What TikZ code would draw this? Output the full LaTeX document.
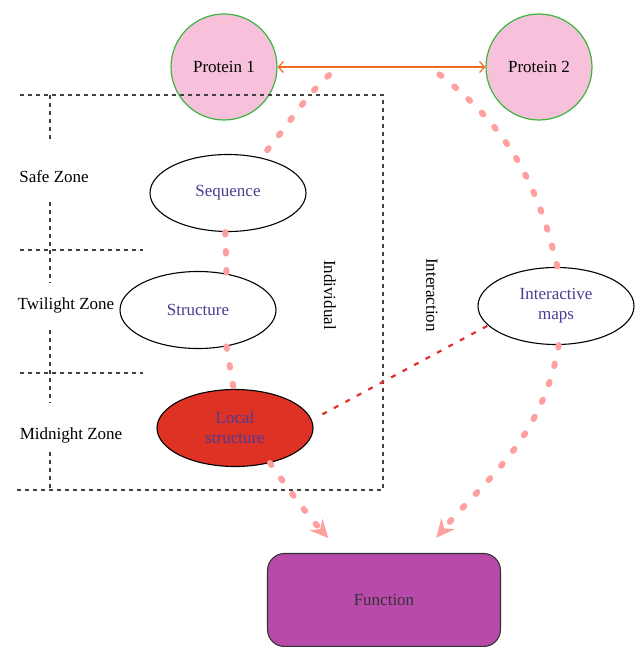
\documentclass[tikz,border=0pt]{standalone}
\usepackage{fontspec}
\setmainfont{Liberation Serif}
\usetikzlibrary{shapes.geometric,arrows.meta}
\definecolor{protfill}{HTML}{F7C1DC}
\definecolor{protline}{HTML}{3DB53D}
\definecolor{linkorange}{HTML}{F26A21}
\definecolor{flowpink}{HTML}{FFA0A0}
\definecolor{localred}{HTML}{DD3224}
\definecolor{dashred}{HTML}{E0302A}
\definecolor{funcpurple}{HTML}{B84AAC}
\definecolor{levelblue}{HTML}{4B3D96}

\begin{document}
\begin{tikzpicture}[x=1pt,y=-1pt,
    every node/.style={font=\fontsize{17}{20}\selectfont},
    protein/.style={circle,draw=protline,fill=protfill,line width=1.2pt,
        minimum size=106pt,inner sep=0pt},
    level/.style={ellipse,draw=black,fill=white,line width=1.1pt,
        minimum width=156pt,minimum height=77pt,inner sep=0pt,
        text=levelblue,align=center},
    zoneline/.style={black!75,line width=1.1pt,dash pattern=on 4pt off 4pt},
    flow/.style={flowpink,line width=6pt,line cap=round,
        dash pattern=on 2.5pt off 16.5pt},
    tipped/.style={-{Stealth[length=18pt,width=17pt,inset=6pt]},shorten >=20pt}]
    \useasboundingbox (0,0) rectangle (636,647);

    \node[protein] (p1) at (224,67) {Protein 1};
    \node[protein] (p2) at (539,67) {Protein 2};
    \draw[linkorange,line width=1.2pt,
        {Straight Barb[length=5pt,width=11pt]}-{Straight Barb[length=5pt,width=11pt]}]
        (p1) -- (p2);

    % zones
    \draw[zoneline] (20,95) -- (383,95) -- (383,490) -- (14,490);
    \draw[zoneline] (20,250) -- (143,250);
    \draw[zoneline] (20,373) -- (143,373);
    \foreach \a/\b in {95/142,202/283,330/403,452/490}
        \draw[zoneline] (50,\a) -- (50,\b);
    \node (safe) at (54,177) {Safe Zone};
    \node (twilight) at (66,305) {Twilight Zone};
    \node (midnight) at (71,435) {Midnight Zone};
    \node[rotate=-90] (indiv) at (330,295) {Individual};
    \node[rotate=-90] (inter) at (432,295) {Interaction};

    \node[level] (seq) at (228,193) {Sequence};
    \node[level] (str) at (198,310) {Structure};
    \node[level,fill=localred] (loc) at (235,428) {Local\\structure};
    \node[level] (int) at (556,306) {Interactive\\maps};
    \node[draw=black!80,fill=funcpurple,rounded corners=17pt,line width=1.1pt,
        minimum width=233pt,minimum height=93pt,text=black!80] (fun) at (384,600) {Function};

    \coordinate (jl) at (338,67);
    \coordinate (jr) at (430,67);
    \draw[flow,shorten <=12pt] (jl) to[out=-138,in=50] (seq.47);
    \draw[flow] (seq.-94) -- (str.52);
    \draw[flow] (str.-52) -- (loc.92);
    \draw[flow,tipped] (loc.-45) to[out=-55,in=132] (fun.132);
    \draw[flow,shorten <=12pt] (jr) to[out=-38,in=103] (int.88);
    \draw[flow,tipped] (int.-86) to[out=-100,in=50] (fun.50);
    \draw[dashred,line width=2.2pt,dash pattern=on 5pt off 8pt,shorten <=12pt]
        (loc.6) -- (int.196);
\end{tikzpicture}
\end{document}
